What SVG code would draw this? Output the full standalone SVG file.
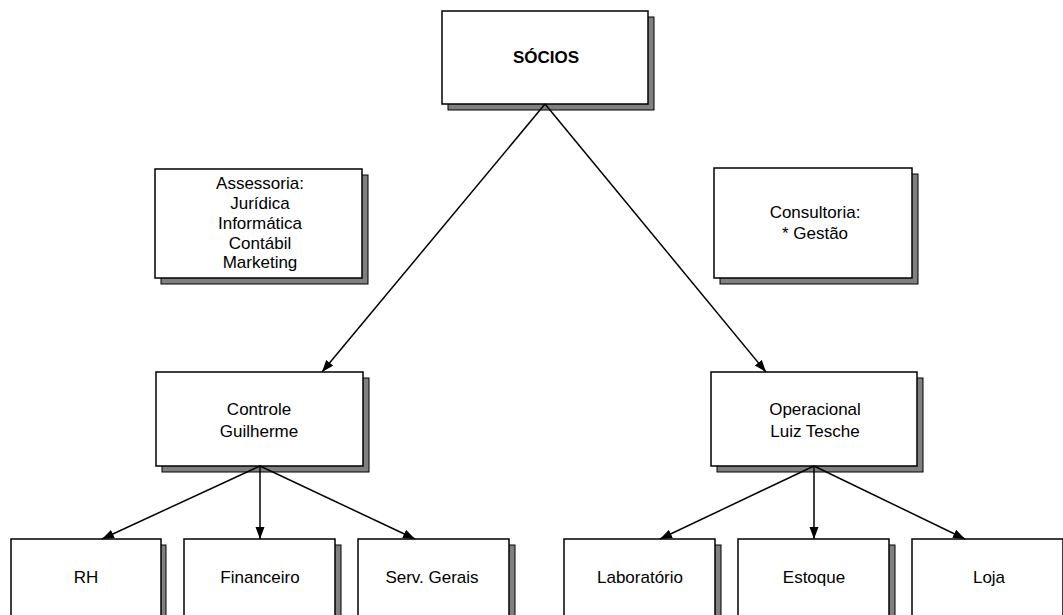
<svg xmlns="http://www.w3.org/2000/svg" width="1063" height="615" viewBox="0 0 1063 615">
<style>
.bg{fill:#ffffff}
.sh{fill:#808080;stroke:#000;stroke-width:1}
.bx{fill:#ffffff;stroke:#000;stroke-width:1.5}
.t{font-family:"Liberation Sans",Arial,sans-serif;font-size:17px;fill:#000;text-anchor:middle}
.b{font-weight:bold}
.c{stroke:#000;stroke-width:1.5;fill:none;marker-end:url(#ah)}
</style>
<defs>
<marker id="ah" markerUnits="userSpaceOnUse" markerWidth="13" markerHeight="10" refX="12" refY="4.5" orient="auto">
<path d="M0,0 L12,4.5 L0,9 z" fill="#000"/>
</marker>
</defs>
<rect class="bg" x="0" y="0" width="1063" height="615"/>
<g id="socios">
<rect class="sh" x="448" y="17" width="206" height="93"/>
<rect class="bx" x="442" y="11" width="206" height="93"/>
<text class="t b" x="546" y="63">SÓCIOS</text>
</g>
<g id="assessoria">
<rect class="sh" x="161" y="175" width="207" height="109"/>
<rect class="bx" x="155" y="169" width="207" height="109"/>
<text class="t" x="260" y="189">Assessoria:</text>
<text class="t" x="260" y="208.5">Jurídica</text>
<text class="t" x="260" y="228.5">Informática</text>
<text class="t" x="260" y="248.5">Contábil</text>
<text class="t" x="260" y="268">Marketing</text>
</g>
<g id="consultoria">
<rect class="sh" x="720" y="174" width="198" height="110"/>
<rect class="bx" x="714" y="168" width="198" height="110"/>
<text class="t" x="815" y="218">Consultoria:</text>
<text class="t" x="815" y="239">* Gestão</text>
</g>
<g id="controle">
<rect class="sh" x="162" y="378" width="207" height="94"/>
<rect class="bx" x="156" y="372" width="207" height="94"/>
<text class="t" x="259" y="415">Controle</text>
<text class="t" x="259" y="437">Guilherme</text>
</g>
<g id="operacional">
<rect class="sh" x="717" y="378" width="206" height="94"/>
<rect class="bx" x="711" y="372" width="206" height="94"/>
<text class="t" x="815" y="415">Operacional</text>
<text class="t" x="815" y="437">Luiz Tesche</text>
</g>
<g id="rh">
<rect class="sh" x="16" y="545" width="150" height="90"/>
<rect class="bx" x="11" y="539" width="150" height="90"/>
<text class="t" x="86" y="583">RH</text>
</g>
<g id="financeiro">
<rect class="sh" x="190" y="545" width="151" height="90"/>
<rect class="bx" x="184" y="539" width="151" height="90"/>
<text class="t" x="260" y="583">Financeiro</text>
</g>
<g id="servgerais">
<rect class="sh" x="364" y="545" width="151" height="90"/>
<rect class="bx" x="358" y="539" width="151" height="90"/>
<text class="t" x="432" y="583">Serv. Gerais</text>
</g>
<g id="laboratorio">
<rect class="sh" x="570" y="545" width="151" height="90"/>
<rect class="bx" x="564" y="539" width="151" height="90"/>
<text class="t" x="640" y="583">Laboratório</text>
</g>
<g id="estoque">
<rect class="sh" x="744" y="545" width="151" height="90"/>
<rect class="bx" x="738" y="539" width="151" height="90"/>
<text class="t" x="814" y="583">Estoque</text>
</g>
<g id="loja">
<rect class="sh" x="918" y="545" width="151" height="90"/>
<rect class="bx" x="912" y="539" width="151" height="90"/>
<text class="t" x="989" y="583">Loja</text>
</g>
<g id="connectors">
<line class="c" x1="545" y1="104" x2="322" y2="372"/>
<line class="c" x1="545" y1="104" x2="766" y2="372"/>
<line class="c" x1="260" y1="466" x2="102" y2="539"/>
<line class="c" x1="260" y1="466" x2="260" y2="539"/>
<line class="c" x1="260" y1="466" x2="415" y2="539"/>
<line class="c" x1="814" y1="466" x2="660" y2="539"/>
<line class="c" x1="814" y1="466" x2="814" y2="539"/>
<line class="c" x1="814" y1="466" x2="965" y2="539"/>
</g>
</svg>
